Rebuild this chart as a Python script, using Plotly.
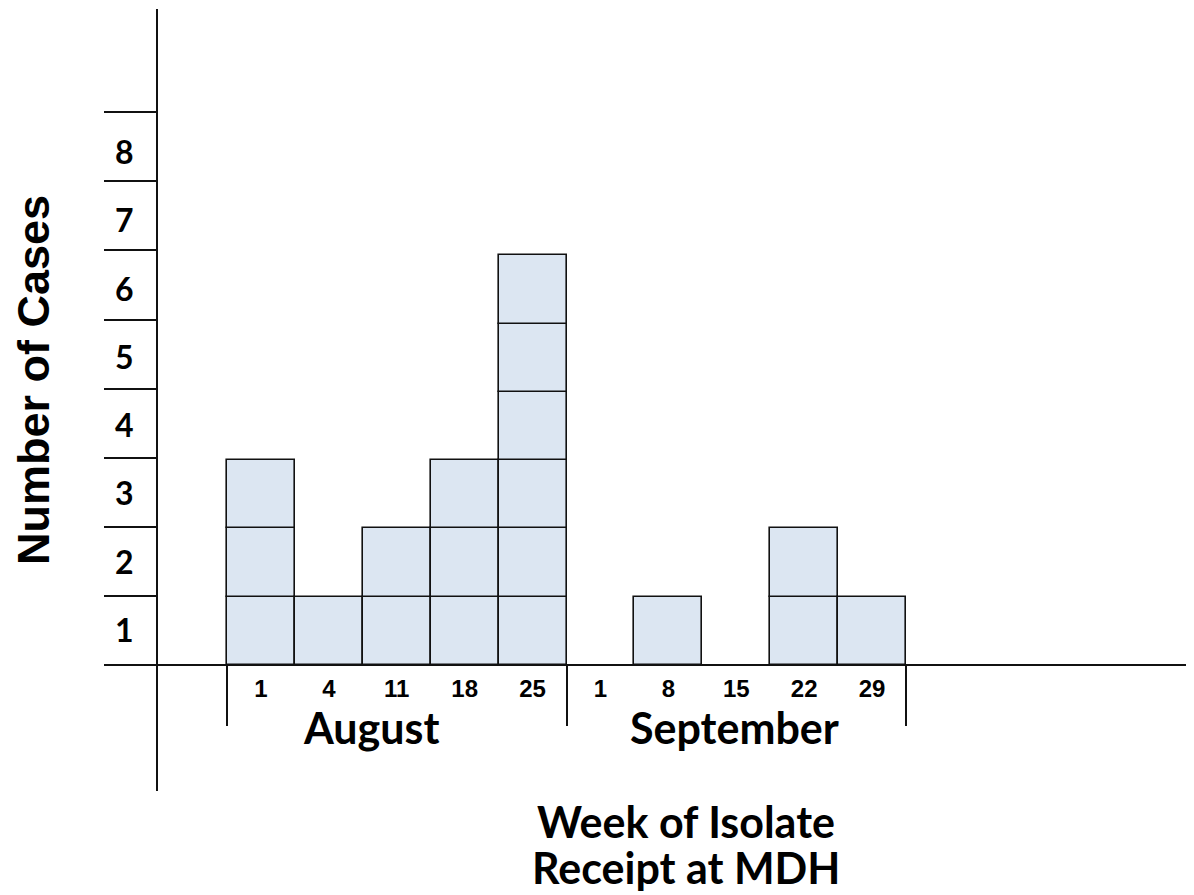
"""Epidemic curve: cases by week of isolate receipt, drawn as stacked case boxes."""
import plotly.graph_objects as go

# ---- data -------------------------------------------------------------
week_labels = ["1", "4", "11", "18", "25", "1", "8", "15", "22", "29"]
case_counts = [3, 1, 2, 3, 6, 0, 1, 0, 2, 1]
months = ["August", "September"]
month_edges = [0, 5, 10]          # column boundaries where each month starts/ends
y_labels = ["1", "2", "3", "4", "5", "6", "7", "8"]

BOX_FILL = "#dce6f2"
LINE = "#111111"

# one box per case: column centre, base level
box_x, box_base = [], []
for i, n in enumerate(case_counts):
    for level in range(n):
        box_x.append(i + 0.5)
        box_base.append(level)

# page has an 8px body margin, so work in reference pixels minus OFF
OFF = 8
W, H = 1194 - OFF, 895 - OFF
unit_box = 68.3                 # px per case box
unit_tick = 69.1                # px per y tick interval
y_zero = 665 - OFF
y_top, y_bot = 9 - OFF, 791 - OFF
x0, col_w = 227 - OFF, 67.9
x_left = 158 - OFF

fig = go.Figure()
fig.add_trace(
    go.Bar(
        x=box_x,
        y=[1] * len(box_x),
        base=box_base,
        width=1,
        marker={"color": BOX_FILL, "line": {"color": LINE, "width": 1.6}},
        hoverinfo="skip",
        showlegend=False,
    )
)

# invisible trace so the tick-line axis is drawn
fig.add_trace(
    go.Scatter(x=[None], y=[None], yaxis="y2", showlegend=False, hoverinfo="skip")
)

# month labels
month_x = [2.12, 7.48]
for name, mx in zip(months, month_x):
    fig.add_annotation(
        x=mx, y=-(727 - 665) / unit_box, xref="x", yref="y", text=name,
        showarrow=False, xanchor="center", yanchor="middle",
        font={"family": "Lato", "size": 43, "color": "black", "weight": 700},
    )

fig.add_annotation(
    x=(34 - OFF) / W, y=1 - (380 - OFF) / H, xref="paper", yref="paper",
    text="Number of Cases", textangle=-90, showarrow=False,
    xanchor="center", yanchor="middle",
    font={"family": "Liberation Sans", "size": 45, "color": "black", "weight": 700},
)
for line, cy in [("Week of Isolate", 821), ("Receipt at MDH", 867)]:
    fig.add_annotation(
        x=(686 - OFF) / W, y=1 - (cy - OFF) / H, xref="paper", yref="paper",
        text=line, showarrow=False, xanchor="center", yanchor="middle",
        font={"family": "Lato", "size": 43, "color": "black", "weight": 700},
    )

fig.update_layout(
    width=W,
    height=H,
    margin={"l": 0, "r": 0, "t": 0, "b": 0},
    paper_bgcolor="white",
    plot_bgcolor="white",
    barmode="overlay",
    bargap=0,
    xaxis={
        "domain": [x_left / W, 1],
        "range": [(x_left - x0) / col_w, (W - x0) / col_w],
        "anchor": "free",
        "position": 1 - y_zero / H,
        "showline": True,
        "linecolor": LINE,
        "linewidth": 2,
        "showgrid": False,
        "zeroline": False,
        "tickmode": "array",
        "tickvals": [i + 0.5 for i in range(len(week_labels))],
        "ticktext": week_labels,
        "ticks": "",
        "ticklabelstandoff": 2,
        "tickfont": {"family": "Liberation Sans", "size": 24, "color": "black", "weight": 700},
        "minor": {
            "tickmode": "array",
            "tickvals": month_edges,
            "ticks": "outside",
            "ticklen": 60,
            "tickwidth": 1.5,
            "tickcolor": LINE,
            "showgrid": False,
        },
        "fixedrange": True,
    },
    yaxis={
        "domain": [1 - y_bot / H, 1 - y_top / H],
        "range": [(y_zero - y_bot) / unit_box, (y_zero - y_top) / unit_box],
        "anchor": "x",
        "showline": True,
        "linecolor": LINE,
        "linewidth": 2,
        "showgrid": False,
        "zeroline": False,
        "tickmode": "array",
        "tickvals": [i + 0.5 for i in range(len(y_labels))],
        "ticktext": y_labels,
        "ticks": "",
        "ticklabelstandoff": 16,
        "tickfont": {"family": "Lato", "size": 32, "color": "black", "weight": 700},
        "fixedrange": True,
    },
    yaxis2={
        "domain": [1 - y_bot / H, 1 - y_top / H],
        "range": [(y_zero - y_bot) / unit_tick, (y_zero - y_top) / unit_tick],
        "overlaying": "y",
        "anchor": "x",
        "side": "left",
        "showline": False,
        "showgrid": False,
        "zeroline": False,
        "tickmode": "array",
        "tickvals": list(range(len(y_labels) + 1)),
        "ticks": "outside",
        "ticklen": 53,
        "tickwidth": 2,
        "tickcolor": LINE,
        "showticklabels": False,
        "fixedrange": True,
    },
)

fig.write_html("out.html")
